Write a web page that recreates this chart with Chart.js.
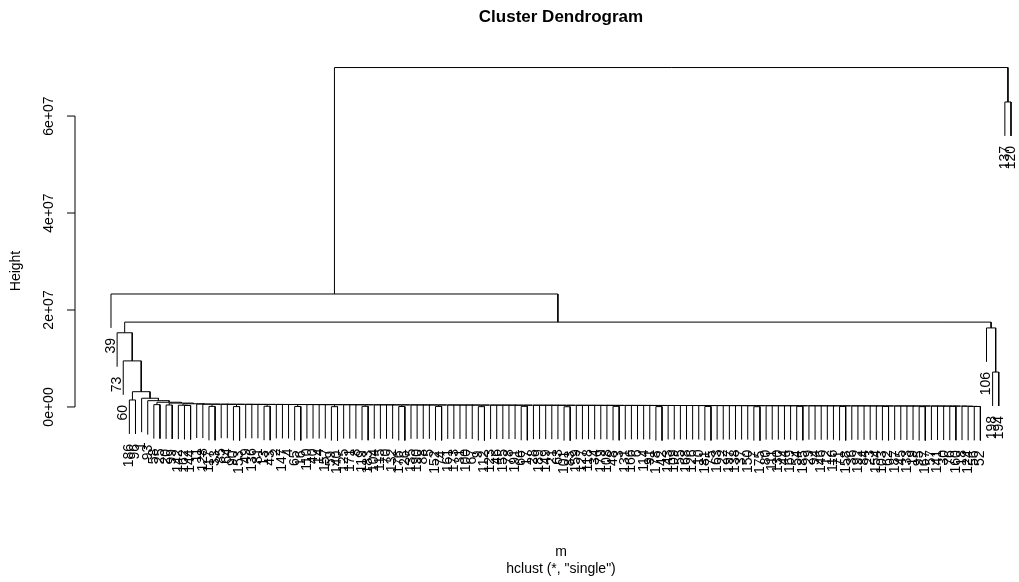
<!DOCTYPE html>
<html>
<head>
<meta charset="utf-8">
<title>Cluster Dendrogram</title>
<script src="https://cdn.jsdelivr.net/npm/chart.js@4.4.0/dist/chart.umd.min.js"></script>
<style>
  html, body { margin: 0; padding: 0; background: #fff; }
  canvas { display: block; }
</style>
</head>
<body>
<canvas id="dendro" width="1019" height="582"></canvas>
<script>
// leaf labels, in the order they are drawn from left to right
const leafLabels = [
  39, 73, 60,
  186, 96, 1, 93, 58, 25, 20, 99, 142, 162,
  144, 11, 128, 117, 33, 85, 64, 90, 153, 49,
  136, 81, 13, 43, 2, 147, 4, 65, 16, 110,
  40, 14, 157, 59, 140, 125, 171, 8, 119, 183,
  104, 115, 70, 132, 176, 26, 135, 190, 88, 5,
  152, 74, 161, 173, 31, 100, 67, 9, 112, 123,
  46, 155, 78, 191, 66, 17, 28, 189, 149, 21,
  63, 101, 83, 159, 127, 118, 34, 179, 108, 48,
  3, 131, 166, 6, 114, 91, 178, 42, 143, 109,
  55, 168, 126, 10, 181, 75, 163, 22, 197, 138,
  37, 150, 7, 175, 80, 111, 130, 44, 169, 54,
  185, 29, 94, 146, 12, 116, 71, 158, 36, 192,
  84, 23, 154, 103, 62, 187, 45, 133, 19, 95,
  167, 57, 141, 30, 76, 160, 18, 124, 56,
  52, 106, 198, 194, 137, 120
];

// merge height between each leaf and the next one (units of 1e6)
const gapHeights = [
  23.3, 15.3, 9.5,
  1.44, 3.15, 1.80, 1.30, 0.48, 0.97, 0.41, 0.80, 0.36, 0.30, 0.66,
  0.60, 0.58, 0.12, 0.57, 0.56, 0.55, 0.08, 0.55, 0.54, 0.53,
  0.53, 0.15, 0.52, 0.52, 0.51, 0.50, 0.10, 0.50, 0.49, 0.49,
  0.48, 0.48, 0.06, 0.47, 0.47, 0.46, 0.46, 0.14, 0.45, 0.45,
  0.44, 0.44, 0.44, 0.09, 0.43, 0.43, 0.42, 0.42, 0.42, 0.11,
  0.41, 0.41, 0.40, 0.40, 0.40, 0.39, 0.07, 0.39, 0.38, 0.38,
  0.38, 0.37, 0.37, 0.13, 0.37, 0.36, 0.36, 0.36, 0.35, 0.35,
  0.05, 0.35, 0.34, 0.34, 0.34, 0.33, 0.33, 0.33, 0.12, 0.32,
  0.32, 0.32, 0.32, 0.31, 0.31, 0.08, 0.31, 0.30, 0.30, 0.30,
  0.30, 0.29, 0.29, 0.10, 0.29, 0.28, 0.28, 0.28, 0.28, 0.27,
  0.27, 0.06, 0.27, 0.26, 0.26, 0.26, 0.26, 0.25, 0.13, 0.25,
  0.25, 0.24, 0.24, 0.24, 0.24, 0.09, 0.23, 0.23, 0.23, 0.22,
  0.22, 0.22, 0.11, 0.21, 0.21, 0.21, 0.20, 0.20, 0.07, 0.20,
  0.19, 0.19, 0.18, 0.14, 0.18, 0.17, 0.12, 0.10,
  17.5, 16.3, 7.2, 70.0, 62.9
];

const yTicks = [0, 2e7, 4e7, 6e7];
const yTickLabels = ["0e+00", "2e+07", "4e+07", "6e+07"];

const hang = 0.1;
const font = '"Liberation Sans", Arial, sans-serif';

let nLeaf = leafLabels.length;
let maxH = Math.max(...gapHeights) * 1e6;
let hangH = hang * maxH;

// rebuild the tree: split at the highest merge between neighbours
function build(lo, hi) {
  if (lo === hi) return { leaf: true, x: lo };
  let k = lo;
  for (let i = lo; i < hi; i++) {
    if (gapHeights[i] > gapHeights[k]) k = i;
  }
  let left = build(lo, k);
  let right = build(k + 1, hi);
  return { leaf: false, h: gapHeights[k] * 1e6, left: left, right: right, x: (left.x + right.x) / 2 };
}

let segPoints = [];
let leafEnds = [];

function walk(node) {
  if (node.leaf) return;
  let yl = node.left.leaf ? node.h - hangH : node.left.h;
  let yr = node.right.leaf ? node.h - hangH : node.right.h;
  if (node.left.leaf) leafEnds.push({ x: node.left.x, y: yl });
  if (node.right.leaf) leafEnds.push({ x: node.right.x, y: yr });
  segPoints.push(
    { x: node.left.x, y: yl },
    { x: node.left.x, y: node.h },
    { x: node.right.x, y: node.h },
    { x: node.right.x, y: yr },
    { x: node.right.x, y: null }
  );
  walk(node.left);
  walk(node.right);
}

walk(build(0, nLeaf - 1));

const textPlugin = {
  id: "dendroText",
  afterDraw(chart) {
    let { ctx, chartArea } = chart;
    let xs = chart.scales.x, ys = chart.scales.y;
    // R centres titles on its plot region, which runs past the right edge here
    let cx = xs.getPixelForValue((nLeaf - 1) / 2);

    ctx.save();
    ctx.fillStyle = "#000";
    ctx.strokeStyle = "#000";
    ctx.lineWidth = 1;

    // title
    ctx.font = "bold 17px " + font;
    ctx.textAlign = "center";
    ctx.textBaseline = "middle";
    ctx.fillText("Cluster Dendrogram", cx, 17);

    // x label and subtitle
    ctx.font = "14px " + font;
    ctx.fillText("m", cx, 552);
    ctx.fillText('hclust (*, "single")', cx, 569);

    // y axis
    let ax = chartArea.left;
    ctx.beginPath();
    ctx.moveTo(ax, ys.getPixelForValue(yTicks[0]));
    ctx.lineTo(ax, ys.getPixelForValue(yTicks[yTicks.length - 1]));
    yTicks.forEach((t) => {
      let py = ys.getPixelForValue(t);
      ctx.moveTo(ax - 8, py);
      ctx.lineTo(ax, py);
    });
    ctx.stroke();

    yTicks.forEach((t, i) => {
      let py = ys.getPixelForValue(t);
      ctx.save();
      ctx.translate(49, py);
      ctx.rotate(-Math.PI / 2);
      ctx.fillText(yTickLabels[i], 0, 0);
      ctx.restore();
    });

    ctx.save();
    ctx.translate(16, 271);
    ctx.rotate(-Math.PI / 2);
    ctx.fillText("Height", 0, 0);
    ctx.restore();

    // leaf labels hanging under each leaf
    ctx.textAlign = "right";
    leafEnds.forEach((p) => {
      let px = xs.getPixelForValue(p.x);
      let py = ys.getPixelForValue(p.y);
      ctx.save();
      ctx.translate(px, py + 10);
      ctx.rotate(-Math.PI / 2);
      ctx.fillText(String(leafLabels[p.x]), 0, 0);
      ctx.restore();
    });

    ctx.restore();
  },
};

new Chart(document.getElementById("dendro").getContext("2d"), {
  type: "scatter",
  data: {
    datasets: [
      {
        data: segPoints,
        showLine: true,
        spanGaps: false,
        borderColor: "#000",
        borderWidth: 1,
        pointRadius: 0,
        pointHoverRadius: 0,
      },
    ],
  },
  options: {
    responsive: false,
    animation: false,
    devicePixelRatio: 1,
    layout: {
      padding: { left: 75, right: 0, top: 53, bottom: 128 },
    },
    scales: {
      x: {
        type: "linear",
        display: false,
        // 4% margin on the left; the picture is cut just after the last leaf
        min: -0.04 * (nLeaf - 1),
        max: 1.0089 * (nLeaf - 1),
      },
      y: {
        type: "linear",
        display: false,
        min: -9.7e6,
        max: 7.3e7,
      },
    },
    plugins: {
      legend: { display: false },
      tooltip: { enabled: false },
    },
  },
  plugins: [textPlugin],
});
</script>
</body>
</html>
